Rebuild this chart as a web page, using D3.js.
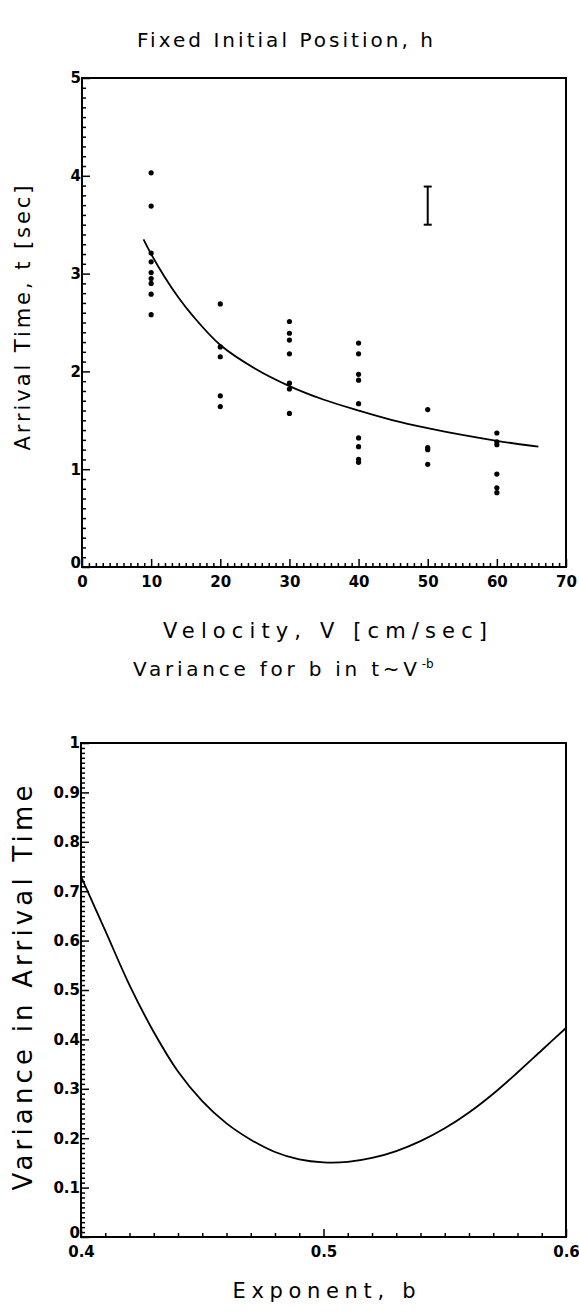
<!DOCTYPE html>
<html>
<head>
<meta charset="utf-8">
<script src="https://cdn.jsdelivr.net/npm/d3@7"></script>
<style>
  body { margin: 0; background: #fff; }
  svg { display: block; }
  .lbl { font-family: "DejaVu Sans", sans-serif; fill: #000; }
  .tick text { font-family: "DejaVu Sans", sans-serif; font-weight: bold; font-size: 15px; fill: #000; }
  .tick line { stroke: #000; stroke-width: 1.5; }
  .domain { display: none; }
</style>
</head>
<body>
<div id="chart"></div>
<script>
// observed arrival times, top panel
const obsV = [10, 10, 10, 10, 10, 10, 10, 10, 10,
  20, 20, 20, 20, 20,
  30, 30, 30, 30, 30, 30, 30,
  40, 40, 40, 40, 40, 40, 40, 40, 40,
  50, 50, 50, 50,
  60, 60, 60, 60, 60, 60]
const obsT = [4.03, 3.69, 3.21, 3.12, 3.01, 2.95, 2.90, 2.79, 2.58,
  2.69, 2.25, 2.15, 1.75, 1.64,
  2.51, 2.39, 2.32, 2.18, 1.88, 1.82, 1.57,
  2.29, 2.18, 1.97, 1.91, 1.67, 1.32, 1.23, 1.10, 1.07,
  1.61, 1.22, 1.20, 1.05,
  1.37, 1.28, 1.25, 0.95, 0.81, 0.76]

// fitted curve
const fitV = [8.9, 10, 12, 14, 16, 20, 25, 30, 35, 40, 45, 50, 55, 60, 66]
const fitT = [3.35, 3.20, 2.96, 2.75, 2.57, 2.27, 2.03, 1.85, 1.71, 1.60, 1.50, 1.42, 1.35, 1.29, 1.23]

// typical error bar
const errV = [50]
const errLo = [3.50]
const errHi = [3.89]

const topXTicks = [0, 10, 20, 30, 40, 50, 60, 70]
const topYTicks = [0, 1, 2, 3, 4, 5]

// bottom panel: variance vs exponent
const expB = [0.40, 0.41, 0.42, 0.43, 0.44, 0.45, 0.46, 0.47, 0.48, 0.49, 0.50,
  0.51, 0.52, 0.53, 0.54, 0.55, 0.56, 0.57, 0.58, 0.59, 0.60]
const varT = [0.730, 0.620, 0.510, 0.415, 0.335, 0.275, 0.230, 0.197, 0.172, 0.157, 0.151,
  0.152, 0.160, 0.174, 0.194, 0.220, 0.252, 0.290, 0.333, 0.378, 0.423]

const botXTicks = [0.4, 0.5, 0.6]
const botYTicks = [0, 0.1, 0.2, 0.3, 0.4, 0.5, 0.6, 0.7, 0.8, 0.9, 1]

const width = 579
const height = 1314

const svg = d3.select("#chart").append("svg")
    .attr("width", width)
    .attr("height", height)

function drawFrame(x, y) {
  const [x0, x1] = x.range()
  const [y0, y1] = y.range()
  svg.append("rect")
      .attr("x", x0)
      .attr("y", y1)
      .attr("width", x1 - x0)
      .attr("height", y0 - y1)
      .attr("fill", "none")
      .attr("stroke", "#000")
      .attr("stroke-width", 2)
}

function drawAxes(x, y, xTicks, xMinor, yTicks, yMinor, xFmt, yFmt) {
  const [y0] = y.range()
  const [x0] = x.range()

  // minor ticks first
  svg.append("g")
      .attr("transform", `translate(0,${y0})`)
      .call(d3.axisBottom(x).tickValues(xMinor).tickSize(-4).tickFormat(""))
  svg.append("g")
      .attr("transform", `translate(${x0},0)`)
      .call(d3.axisLeft(y).tickValues(yMinor).tickSize(-4).tickFormat(""))

  svg.append("g")
      .attr("transform", `translate(0,${y0})`)
      .call(d3.axisBottom(x).tickValues(xTicks).tickSize(-8).tickPadding(6).tickFormat(xFmt))
    .selectAll("text")
      .attr("dy", "0.95em")
  const yAxis = svg.append("g")
      .attr("transform", `translate(${x0},0)`)
      .call(d3.axisLeft(y).tickValues(yTicks).tickSize(-8).tickPadding(1).tickFormat(yFmt))
  // lift the corner zero so it clears the x label below
  yAxis.selectAll(".tick text")
      .filter(d => d === 0)
      .attr("dy", "0.05em")
}

// ---------- top panel ----------
const x1 = d3.scaleLinear().domain([0, 70]).range([82, 566])
const y1 = d3.scaleLinear().domain([0, 5]).range([567, 78])

drawFrame(x1, y1)
drawAxes(x1, y1,
  topXTicks, d3.range(0, 71, 1).filter(d => d % 10 !== 0),
  topYTicks, d3.range(0, 50, 1).map(d => d / 10).filter((d, i) => i % 10 !== 0),
  d3.format("d"), d3.format("d"))

const fitLine = d3.line()
    .x((d, i) => x1(fitV[i]))
    .y(d => y1(d))
    .curve(d3.curveCatmullRom)

svg.append("path")
    .datum(fitT)
    .attr("d", fitLine)
    .attr("fill", "none")
    .attr("stroke", "#000")
    .attr("stroke-width", 1.8)

svg.append("g")
  .selectAll("circle")
  .data(obsT)
  .join("circle")
    .attr("cx", (d, i) => x1(obsV[i]))
    .attr("cy", d => y1(d))
    .attr("r", 2.6)
    .attr("fill", "#000")

const eb = svg.append("g")
errV.forEach((v, i) => {
  const cx = x1(v)
  eb.append("line")
      .attr("x1", cx).attr("x2", cx)
      .attr("y1", y1(errLo[i])).attr("y2", y1(errHi[i]))
      .attr("stroke", "#000").attr("stroke-width", 2)
  ;[errLo[i], errHi[i]].forEach(t => {
    eb.append("line")
        .attr("x1", cx - 4).attr("x2", cx + 4)
        .attr("y1", y1(t)).attr("y2", y1(t))
        .attr("stroke", "#000").attr("stroke-width", 2)
  })
})

svg.append("text")
    .attr("class", "lbl")
    .attr("x", 285)
    .attr("y", 47)
    .attr("text-anchor", "middle")
    .attr("font-size", 20)
    .attr("textLength", 296)
    .text("Fixed Initial Position, h")

svg.append("text")
    .attr("class", "lbl")
    .attr("x", 325)
    .attr("y", 638)
    .attr("text-anchor", "middle")
    .attr("font-size", 21)
    .attr("textLength", 324)
    .text("Velocity, V [cm/sec]")

svg.append("text")
    .attr("class", "lbl")
    .attr("transform", "translate(30,318) rotate(-90)")
    .attr("text-anchor", "middle")
    .attr("font-size", 21)
    .attr("textLength", 265)
    .text("Arrival Time, t [sec]")

// ---------- bottom panel ----------
const x2 = d3.scaleLinear().domain([0.4, 0.6]).range([81, 566])
const y2 = d3.scaleLinear().domain([0, 1]).range([1237, 743])

drawFrame(x2, y2)
drawAxes(x2, y2,
  botXTicks, d3.range(40, 61, 1).filter(d => d % 10 !== 0).map(d => d / 100),
  botYTicks, d3.range(0, 100, 1).filter(d => d % 10 !== 0).map(d => d / 100),
  d3.format(".1f"), d => d === 0 || d === 1 ? d3.format("d")(d) : d3.format(".1f")(d))

const varLine = d3.line()
    .x((d, i) => x2(expB[i]))
    .y(d => y2(d))
    .curve(d3.curveCatmullRom)

svg.append("path")
    .datum(varT)
    .attr("d", varLine)
    .attr("fill", "none")
    .attr("stroke", "#000")
    .attr("stroke-width", 1.8)

const t2 = svg.append("text")
    .attr("class", "lbl")
    .attr("x", 133)
    .attr("y", 676)
    .attr("font-size", 20)
t2.append("tspan")
    .attr("textLength", 284)
    .text("Variance for b in t~V")
t2.append("tspan")
    .attr("font-size", 12)
    .attr("dy", -8)
    .attr("dx", 1)
    .text("-b")

svg.append("text")
    .attr("class", "lbl")
    .attr("x", 324)
    .attr("y", 1298)
    .attr("text-anchor", "middle")
    .attr("font-size", 21)
    .attr("textLength", 183)
    .text("Exponent, b")

svg.append("text")
    .attr("class", "lbl")
    .attr("transform", "translate(32,988) rotate(-90)")
    .attr("text-anchor", "middle")
    .attr("font-size", 26)
    .attr("textLength", 405)
    .text("Variance in Arrival Time")
</script>
</body>
</html>
